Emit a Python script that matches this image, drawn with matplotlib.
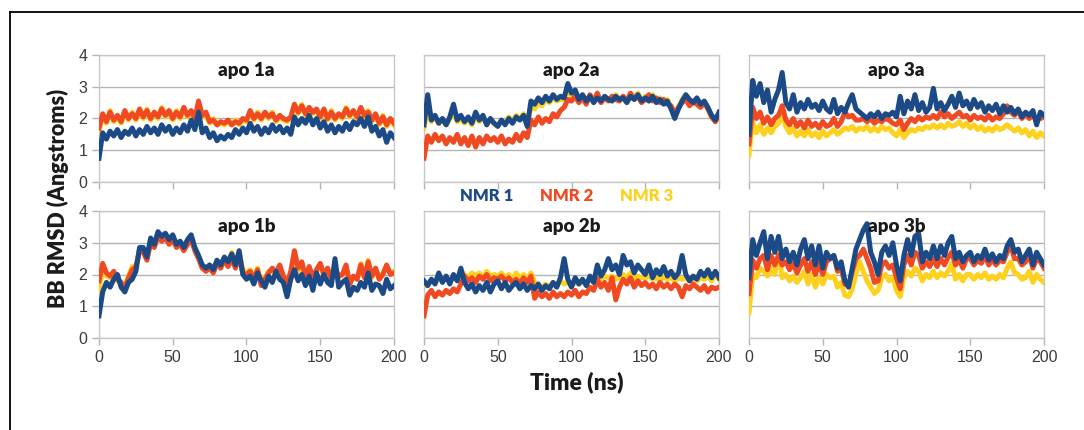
import numpy as np
import matplotlib
matplotlib.use("Agg")
import matplotlib.pyplot as plt
from matplotlib.lines import Line2D

# sampled every 2.5 ns, 0..200 ns (81 points)
time_ns = np.linspace(0, 200, 81)

panel_names = ["apo 1a", "apo 2a", "apo 3a", "apo 1b", "apo 2b", "apo 3b"]
series_names = ["NMR 1", "NMR 2", "NMR 3"]

apo1a_nmr1 = [0.75, 1.55, 1.35, 1.6, 1.45, 1.65, 1.4, 1.6, 1.5, 1.7,
              1.45, 1.65, 1.5, 1.75, 1.55, 1.7, 1.5, 1.8, 1.6, 1.75,
              1.5, 1.7, 1.55, 1.8, 1.6, 1.95, 1.65, 2.2, 1.55, 1.7,
              1.4, 1.55, 1.3, 1.45, 1.35, 1.5, 1.4, 1.65, 1.5, 1.7,
              1.55, 1.85, 1.6, 1.75, 1.5, 1.7, 1.55, 1.8, 1.6, 1.75,
              1.55, 1.7, 1.5, 2.05, 1.8, 2.0, 1.85, 2.1, 1.8, 2.0,
              1.7, 1.9, 1.6, 1.8, 1.55, 1.75, 1.6, 1.85, 1.65, 1.9,
              1.8, 2.0, 1.75, 2.05, 1.6, 1.75, 1.45, 1.65, 1.25, 1.55,
              1.4]
apo1a_nmr2 = [1.7, 2.15, 1.9, 2.2, 1.95, 2.1, 1.9, 2.25, 2.0, 2.15,
              2.0, 2.3, 2.05, 2.25, 2.0, 2.2, 2.05, 2.3, 2.1, 2.25,
              2.0, 2.2, 2.05, 2.35, 2.1, 2.25, 2.0, 2.55, 2.1, 2.2,
              1.9, 1.95, 1.8, 1.9, 1.85, 1.95, 1.8, 1.9, 1.85, 2.0,
              1.95, 2.25, 2.0, 2.15, 2.0, 2.2, 2.05, 2.15, 1.95, 2.1,
              2.0, 1.95, 2.05, 2.45, 2.2, 2.4, 2.15, 2.35, 2.2, 2.3,
              2.05, 2.3, 2.0, 2.2, 2.0, 2.15, 2.05, 2.3, 2.1, 2.25,
              2.05, 2.35, 2.1, 2.2, 1.95, 2.15, 1.85, 2.05, 1.8, 2.0,
              1.85]
apo1a_nmr3 = [1.6, 2.1, 1.85, 2.25, 1.9, 2.05, 1.85, 2.2, 1.95, 2.2,
              1.95, 2.25, 2.0, 2.3, 1.95, 2.15, 2.0, 2.35, 2.05, 2.2,
              1.95, 2.25, 2.0, 2.3, 2.05, 2.2, 1.95, 2.45, 2.05, 2.15,
              1.85, 2.0, 1.8, 1.85, 1.8, 1.9, 1.8, 1.95, 1.8, 1.95,
              1.9, 2.2, 1.95, 2.2, 1.95, 2.15, 2.0, 2.2, 1.9, 2.05,
              1.95, 1.9, 2.0, 2.4, 2.15, 2.45, 2.1, 2.3, 2.15, 2.25,
              2.0, 2.25, 1.95, 2.25, 1.95, 2.1, 2.0, 2.35, 2.05, 2.2,
              2.0, 2.3, 2.05, 2.25, 1.9, 2.1, 1.8, 2.1, 1.75, 1.95,
              1.8]

apo2a_nmr1 = [1.8, 2.75, 1.95, 2.1, 1.85, 2.0, 1.8, 2.05, 2.45, 1.95,
              2.1, 1.9, 2.05, 1.85, 2.2, 1.95, 2.1, 1.8, 2.0, 1.85,
              1.75, 1.95, 1.8, 2.0, 1.85, 2.05, 1.95, 2.1, 1.75, 2.55,
              2.45, 2.65, 2.5, 2.7, 2.55, 2.75, 2.6, 2.7, 2.65, 3.1,
              2.8, 2.9, 2.6, 2.75, 2.55, 2.7, 2.5, 2.65, 2.55, 2.7,
              2.6, 2.55, 2.7, 2.6, 2.65, 2.5, 2.7, 2.6, 2.75, 2.55,
              2.65, 2.55, 2.7, 2.5, 2.6, 2.45, 2.55, 2.3, 2.0, 2.3,
              2.55, 2.75, 2.6, 2.5, 2.65, 2.45, 2.55, 2.35, 2.1, 1.95,
              2.2]
apo2a_nmr2 = [0.75, 1.45, 1.25, 1.5, 1.3, 1.45, 1.2, 1.4, 1.25, 1.5,
              1.2, 1.4, 1.15, 1.45, 1.1, 1.4, 1.2, 1.45, 1.3, 1.4,
              1.25, 1.45, 1.2, 1.35, 1.25, 1.5, 1.3, 1.55, 1.4, 1.95,
              1.8, 2.05, 1.85, 2.0, 1.9, 2.15, 2.05, 2.25, 2.35, 2.6,
              2.55, 2.7, 2.5, 2.65, 2.45, 2.75, 2.55, 2.8, 2.5, 2.65,
              2.55, 2.7, 2.6, 2.55, 2.7, 2.55, 2.8, 2.6, 2.7, 2.5,
              2.6, 2.75, 2.55, 2.65, 2.5, 2.6, 2.45, 2.4, 2.15, 2.35,
              2.5, 2.6, 2.4, 2.55, 2.45, 2.35, 2.5, 2.3, 2.05, 1.9,
              2.1]
apo2a_nmr3 = [1.7, 2.3, 1.9, 2.05, 1.85, 1.95, 1.8, 2.0, 2.2, 1.9,
              2.0, 1.85, 2.0, 1.8, 2.1, 1.9, 2.05, 1.8, 1.95, 1.85,
              1.8, 1.9, 1.85, 2.05, 1.9, 2.1, 2.0, 2.15, 1.85, 2.35,
              2.3, 2.5, 2.4, 2.6, 2.5, 2.65, 2.55, 2.6, 2.6, 2.9,
              2.7, 2.8, 2.6, 2.7, 2.5, 2.7, 2.55, 2.7, 2.55, 2.65,
              2.6, 2.65, 2.75, 2.6, 2.7, 2.55, 2.75, 2.65, 2.8, 2.55,
              2.7, 2.55, 2.75, 2.55, 2.65, 2.5, 2.6, 2.35, 2.1, 2.35,
              2.6, 2.7, 2.55, 2.45, 2.6, 2.4, 2.5, 2.3, 2.05, 1.9,
              2.15]

apo3a_nmr1 = [1.5, 3.2, 2.7, 3.1, 2.5, 2.9, 2.2, 2.6, 2.9, 3.45,
              2.5, 2.3, 2.75, 2.2, 2.5, 2.3, 2.6, 2.35, 2.45, 2.25,
              2.55, 2.3, 2.2, 2.6, 2.15, 2.35, 2.2, 2.5, 2.75, 2.3,
              2.2, 2.1, 2.0, 2.15, 2.05, 2.2, 2.0, 2.15, 2.1, 2.2,
              2.05, 2.7, 2.15, 2.55, 2.3, 2.75, 2.25, 2.5, 2.2, 2.35,
              2.95, 2.3, 2.5, 2.25, 2.45, 2.7, 2.35, 2.8, 2.4, 2.55,
              2.3, 2.6, 2.35, 2.5, 2.2, 2.4, 2.25, 2.45, 2.15, 2.4,
              2.2, 2.35, 2.15, 2.3, 2.05, 2.2, 2.1, 2.25, 1.8, 2.2,
              2.1]
apo3a_nmr2 = [1.2, 2.35, 2.0, 2.2, 1.85, 2.05, 1.8, 2.0, 2.1, 2.4,
              1.95, 1.8, 2.0, 1.75, 1.9, 1.7, 1.95, 1.75, 1.85, 1.7,
              1.9, 1.75, 1.8, 2.0, 1.75, 1.9, 2.2, 2.05, 2.1, 1.95,
              1.95, 2.0, 1.9, 2.0, 1.85, 1.95, 1.9, 2.0, 1.95, 1.85,
              1.8, 1.95, 1.65, 1.85, 2.0, 1.9, 2.05, 1.95, 2.05, 2.0,
              2.1, 2.0, 2.2, 2.05, 2.15, 2.0, 2.1, 2.2, 2.05, 2.1,
              1.95, 2.1, 2.0, 2.05, 1.95, 2.1, 1.95, 2.05, 2.0, 2.15,
              2.4, 2.2, 2.1, 2.25, 2.0, 2.15, 2.0, 2.1, 1.95, 2.0,
              2.05]
apo3a_nmr3 = [0.85, 1.9, 1.55, 1.8, 1.5, 1.7, 1.55, 1.75, 1.85, 2.1,
              1.75, 1.55, 1.7, 1.45, 1.6, 1.45, 1.65, 1.45, 1.55, 1.4,
              1.6, 1.45, 1.55, 1.65, 1.5, 1.6, 1.7, 1.65, 1.75, 1.6,
              1.7, 1.65, 1.75, 1.6, 1.7, 1.6, 1.75, 1.65, 1.7, 1.55,
              1.45, 1.65, 1.4, 1.55, 1.65, 1.6, 1.7, 1.65, 1.75, 1.7,
              1.8, 1.7, 1.8, 1.7, 1.85, 1.75, 1.8, 1.9, 1.75, 1.85,
              1.7, 1.8, 1.65, 1.75, 1.6, 1.7, 1.6, 1.75, 1.65, 1.7,
              1.8, 1.7, 1.6, 1.7, 1.55, 1.65, 1.45, 1.6, 1.4, 1.55,
              1.45]

apo1b_nmr1 = [0.7, 1.45, 1.75, 1.6, 1.85, 2.0, 1.6, 1.45, 1.75, 1.85,
              2.1, 2.85, 2.85, 2.55, 3.15, 2.95, 3.35, 3.2, 3.3, 3.1,
              3.25, 2.95, 3.05, 2.85, 3.1, 3.25, 2.85, 2.6, 2.3, 2.2,
              2.3, 2.15, 2.45, 2.3, 2.55, 2.4, 2.65, 2.3, 2.75, 2.0,
              1.85, 1.95, 1.7, 2.05, 1.8, 1.6, 1.95, 1.75, 2.1, 1.85,
              1.75, 1.3, 1.85, 2.15, 1.8, 2.0, 1.65, 1.95, 1.5, 2.05,
              1.7, 2.0, 1.75, 1.65, 2.5, 1.6, 1.75, 1.85, 1.35, 1.6,
              1.5, 1.75, 1.6, 2.05, 1.5, 1.7, 1.65, 1.4, 1.85, 1.55,
              1.65]
apo1b_nmr2 = [1.8, 2.35, 2.05, 1.95, 2.1, 1.85, 1.75, 1.55, 1.9, 2.15,
              2.25, 2.75, 2.7, 2.45, 3.0, 2.85, 3.2, 3.05, 3.15, 2.95,
              3.1, 2.85, 2.95, 2.75, 2.95, 3.1, 2.75, 2.5, 2.2, 2.1,
              2.2, 2.05, 2.35, 2.2, 2.45, 2.25, 2.5, 2.2, 2.6, 2.05,
              2.0, 2.1, 1.85, 2.15, 1.65, 1.85, 2.05, 2.2, 2.05, 2.3,
              1.95, 1.7, 2.1, 2.75, 2.2, 2.4, 1.9, 2.25, 1.9, 2.15,
              2.35, 2.0, 2.2, 1.85, 2.2, 1.95, 2.0, 2.3, 1.7, 1.95,
              1.85, 2.3, 1.9, 2.4, 1.95, 2.2, 1.85, 2.0, 2.3, 2.0,
              2.05]
apo1b_nmr3 = [1.5, 2.2, 1.95, 1.9, 2.0, 1.8, 1.7, 1.6, 1.95, 2.25,
              2.2, 2.8, 2.75, 2.5, 3.05, 2.9, 3.25, 3.1, 3.2, 3.0,
              3.15, 2.9, 3.0, 2.8, 3.0, 3.15, 2.8, 2.55, 2.3, 2.2,
              2.3, 2.15, 2.45, 2.3, 2.5, 2.35, 2.7, 2.35, 2.7, 2.15,
              2.05, 2.15, 1.9, 2.2, 1.75, 1.9, 2.1, 2.15, 2.0, 2.2,
              1.95, 1.75, 2.05, 2.6, 2.1, 2.35, 1.9, 2.2, 1.9, 2.1,
              2.25, 1.95, 2.15, 1.85, 2.2, 1.9, 2.0, 2.25, 1.7, 1.95,
              1.85, 2.35, 1.9, 2.45, 1.9, 2.15, 1.85, 2.05, 2.25, 2.05,
              2.1]

apo2b_nmr1 = [1.8, 1.65, 1.85, 1.7, 2.05, 1.75, 1.95, 1.7, 2.0, 1.8,
              2.2, 1.75, 1.55, 1.7, 1.45, 1.65, 1.5, 1.75, 1.45, 1.7,
              1.8, 1.55, 1.75, 1.5, 1.65, 1.75, 1.55, 1.7, 1.5, 1.65,
              1.55, 1.7, 1.5, 1.65, 1.55, 1.75, 1.6, 1.9, 2.5, 1.85,
              1.6, 1.9, 1.7, 1.85, 1.65, 1.95, 1.75, 2.3, 1.95, 2.15,
              2.5, 2.15, 2.3, 2.0, 2.6, 2.3, 2.4, 2.05, 2.3, 2.15,
              2.0, 2.3, 1.9, 2.15, 2.0, 2.25, 1.95, 2.1, 1.9, 2.05,
              2.6, 2.0, 1.8, 1.95, 1.85, 2.1, 1.95, 2.15, 1.9, 2.1,
              1.9]
apo2b_nmr2 = [0.7, 1.35, 1.5, 1.3, 1.45, 1.35, 1.5, 1.4, 1.55, 1.45,
              1.7, 1.95, 1.8, 1.9, 1.75, 1.95, 1.85, 2.0, 1.8, 1.9,
              1.85, 1.95, 1.8, 1.9, 1.75, 1.85, 1.7, 1.9, 1.75, 1.95,
              1.25, 1.45, 1.3, 1.4, 1.25, 1.45, 1.3, 1.4, 1.3, 1.45,
              1.35, 1.5, 1.3, 1.45, 1.4, 1.6, 1.5, 1.85, 1.6, 1.75,
              1.5, 1.9, 1.2, 1.6, 1.85, 1.7, 1.9, 1.6, 1.8, 1.65,
              1.75, 1.6, 1.7, 1.55, 1.75, 1.6, 1.7, 1.55, 1.7, 1.6,
              1.3, 1.65, 1.55, 1.7, 1.6, 1.5, 1.65, 1.45, 1.6, 1.55,
              1.6]
apo2b_nmr3 = [1.65, 1.7, 1.8, 1.75, 1.85, 1.8, 1.9, 1.8, 1.95, 1.85,
              2.1, 2.0, 1.9, 2.05, 1.95, 2.05, 1.9, 2.1, 1.95, 2.0,
              1.95, 2.05, 1.9, 2.0, 1.85, 2.05, 1.9, 2.0, 1.85, 2.05,
              1.75, 1.65, 1.6, 1.7, 1.6, 1.75, 1.65, 1.8, 1.7, 1.75,
              1.65, 1.75, 1.7, 1.8, 1.7, 1.85, 1.75, 2.0, 1.85, 1.95,
              1.9, 1.95, 1.85, 1.9, 2.0, 1.9, 2.05, 1.85, 1.95, 1.9,
              1.9, 1.95, 1.85, 1.9, 1.8, 1.95, 1.85, 1.9, 1.8, 1.9,
              1.85, 1.9, 1.8, 1.85, 1.8, 1.9, 1.85, 1.95, 1.8, 2.0,
              1.85]

apo3b_nmr1 = [1.9, 3.1, 2.6, 3.0, 3.35, 2.5, 3.2, 2.7, 3.2, 2.5,
              2.8, 2.4, 2.7, 2.3, 2.8, 3.1, 2.5, 2.9, 2.3, 2.9,
              2.2, 2.7, 2.5, 2.6, 2.2, 2.4, 1.8, 1.6, 2.2, 2.8,
              3.1, 3.4, 3.6, 2.7, 2.4, 2.0, 2.7, 2.9, 2.6, 3.0,
              2.3, 1.8, 2.6, 3.1, 2.6, 3.2, 3.3, 2.4, 2.7, 2.5,
              2.9, 2.5, 2.9, 2.6, 3.0, 3.2, 2.5, 2.7, 2.4, 2.6,
              2.7, 2.4, 2.6, 2.5, 2.8, 2.45, 2.65, 2.4, 2.6, 2.5,
              2.9, 3.1, 2.7, 2.8, 2.4, 2.6, 2.8, 2.3, 2.7, 2.5,
              2.3]
apo3b_nmr2 = [1.4, 2.45, 2.2, 2.5, 2.6, 2.15, 2.6, 2.3, 2.6, 2.3,
              2.4, 2.15, 2.35, 2.05, 2.3, 2.5, 2.1, 2.4, 2.0, 2.35,
              2.0, 2.4, 2.5, 2.6, 2.1, 2.2, 1.7, 1.65, 2.1, 2.5,
              2.6, 2.8, 2.5, 2.2, 1.75, 1.8, 2.3, 2.4, 2.2, 2.3,
              1.9, 1.55, 2.3, 2.6, 2.3, 2.7, 2.6, 2.2, 2.4, 2.25,
              2.5, 2.25, 2.5, 2.3, 2.55, 2.7, 2.3, 2.45, 2.2, 2.5,
              2.5, 2.3, 2.45, 2.35, 2.6, 2.3, 2.45, 2.3, 2.45, 2.4,
              2.7, 2.9, 2.5, 2.5, 2.3, 2.4, 2.6, 2.2, 2.5, 2.4,
              2.2]
apo3b_nmr3 = [0.8, 2.0, 1.9, 2.2, 2.1, 1.95, 2.2, 2.0, 2.7, 1.9,
              2.0, 1.8, 1.95, 1.75, 1.9, 2.1, 1.7, 2.0, 1.6, 1.9,
              1.7, 2.0, 1.9, 1.95, 1.6, 1.75, 1.35, 1.3, 1.55, 2.0,
              2.4, 2.1, 1.8, 1.6, 1.4, 1.5, 1.9, 2.0, 1.8, 1.9,
              1.5, 1.3, 1.9, 2.1, 1.95, 2.2, 2.1, 1.8, 2.0, 1.9,
              2.1, 1.9, 2.05, 1.95, 2.1, 2.35, 1.85, 2.0, 1.8, 2.0,
              2.0, 1.85, 2.0, 1.9, 2.05, 1.85, 1.95, 1.85, 2.0, 1.9,
              2.2, 2.4, 2.05, 2.0, 1.85, 1.9, 2.1, 1.75, 2.0, 1.85,
              1.75]

panels = [
    (apo1a_nmr1, apo1a_nmr2, apo1a_nmr3),
    (apo2a_nmr1, apo2a_nmr2, apo2a_nmr3),
    (apo3a_nmr1, apo3a_nmr2, apo3a_nmr3),
    (apo1b_nmr1, apo1b_nmr2, apo1b_nmr3),
    (apo2b_nmr1, apo2b_nmr2, apo2b_nmr3),
    (apo3b_nmr1, apo3b_nmr2, apo3b_nmr3),
]

colors = ["#1c4a87", "#f04a22", "#ffd11f"]
grid_col = "#b4b4b4"
tick_col = "#3c3c3c"

plt.rcParams["font.family"] = ["Liberation Sans", "DejaVu Sans"]

fig = plt.figure(figsize=(10.84, 4.30), dpi=100)

# partial frame: top and left lines
fig.add_artist(Line2D([10 / 1084, 1.0], [1 - 11.5 / 430, 1 - 11.5 / 430],
                      color="black", lw=1.3, transform=fig.transFigure))
fig.add_artist(Line2D([10 / 1084, 10 / 1084], [1 - 11.5 / 430, 0.0],
                      color="black", lw=1.3, transform=fig.transFigure))

lefts = [99 / 1084, 424 / 1084, 749 / 1084]
bottoms = [1 - 182 / 430, 1 - 338 / 430]
w = 295 / 1084
h = 127 / 430

for i, (name, data) in enumerate(zip(panel_names, panels)):
    row, col = divmod(i, 3)
    ax = fig.add_axes([lefts[col], bottoms[row], w, h])
    # yellow first, blue on top
    for k in (2, 1, 0):
        ax.plot(time_ns, data[k], color=colors[k], lw=3.6, solid_joinstyle="round", zorder=3 + (2 - k))
    ax.set_xlim(0, 200)
    ax.set_ylim(0, 4)
    ax.set_xticks([0, 50, 100, 150, 200])
    ax.set_yticks([0, 1, 2, 3, 4])
    ax.grid(axis="y", color=grid_col, lw=1.0)
    ax.set_axisbelow(True)
    for s in ax.spines.values():
        s.set_color("#c8c8c8")
        s.set_linewidth(1.0)
    ax.tick_params(colors=grid_col, length=5, width=1.0, labelcolor=tick_col, labelsize=11.5)
    if col != 0:
        ax.tick_params(axis="y", labelleft=False, length=0)
    if row == 0:
        ax.tick_params(axis="x", labelbottom=False)
    ax.text(0.5, 0.88, name, transform=ax.transAxes, ha="center", va="center",
            fontsize=13.5, fontweight="heavy", color="#1a1a1a", family="Lato", zorder=10)

# legend as coloured words
for name, c, xpix in zip(series_names, colors, [487, 567, 647]):
    fig.text(xpix / 1084, 1 - 196 / 430, name, color=c, fontsize=12, fontweight="heavy",
             family="Lato", ha="center", va="center")

fig.text(58 / 1084, 1 - 198 / 430, "BB RMSD (Angstroms)", rotation=90, fontsize=15.5,
         fontweight="heavy", family="Lato", ha="center", va="center", color="#1a1a1a")
fig.text(577 / 1084, 1 - 382 / 430, "Time (ns)", fontsize=16.5, fontweight="heavy",
         family="Lato", ha="center", va="center", color="#1a1a1a")

fig.savefig("out.png", dpi=100)
